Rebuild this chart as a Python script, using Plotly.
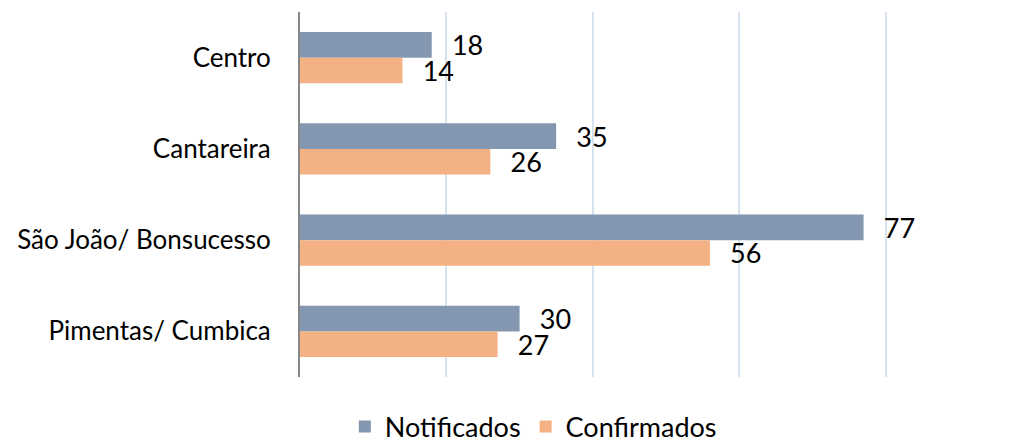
import plotly.graph_objects as go

categories = ["Centro", "Cantareira", "São João/ Bonsucesso", "Pimentas/ Cumbica"]
notificados = [18, 35, 77, 30]
confirmados = [14, 26, 56, 27]
series_names = ["Notificados", "Confirmados"]
colors = ["#8497B0", "#F4B183"]

FS = 27

fig = go.Figure()
for name, vals, col in zip(series_names, [notificados, confirmados], colors):
    fig.add_trace(go.Bar(
        y=categories, x=vals, name=name, orientation="h",
        marker=dict(color=col, line=dict(width=0)),
        text=vals, texttemplate="\u00a0\u00a0\u2009%{x}", textposition="outside",
        constraintext="none",
        textfont=dict(size=FS, color="#000000", family="Lato"),
        cliponaxis=False,
    ))

fig.update_layout(
    width=1024, height=441,
    margin=dict(l=292, r=145, t=4, b=72, autoexpand=False),
    barmode="group", bargap=0.44, bargroupgap=0,
    plot_bgcolor="white", paper_bgcolor="white",
    font=dict(family="Lato", size=FS, color="#000000"),
    xaxis=dict(range=[0, 80.2], dtick=20, showticklabels=False, showgrid=True,
               gridcolor="#D6E2F0", gridwidth=2, zeroline=False, showline=False,
               automargin=False),
    yaxis=dict(autorange="reversed", showline=True, linecolor="#868686", linewidth=2,
               ticks="", ticklabelstandoff=22, tickfont=dict(size=26), automargin=False),
    legend=dict(orientation="h", xref="container", yref="container",
                x=0.513, xanchor="center", y=0.05, yanchor="middle",
                font=dict(size=FS), traceorder="normal"),
    showlegend=True,
)
fig.write_html("out.html")
